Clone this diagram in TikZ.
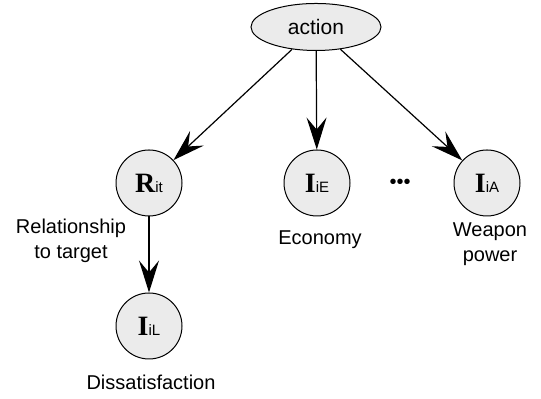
\documentclass[tikz,border=0pt]{standalone}
\usepackage{fontspec}
\setmainfont{Liberation Sans}
\newfontfamily\serifbf{Liberation Serif}
\usetikzlibrary{positioning,arrows.meta,shapes.geometric}
\definecolor{nodegray}{RGB}{235,235,235}
\newcommand{\varname}[2]{{\fontsize{14}{14}\selectfont\serifbf\bfseries #1}{\fontsize{7.5}{7.5}\selectfont #2}}

\begin{document}
\begin{tikzpicture}[x=0.5pt,y=0.5pt,
		var/.style={circle,draw,fill=nodegray,minimum size=33pt,inner sep=0pt,line width=0.5pt},
		act/.style={ellipse,draw,fill=nodegray,minimum width=65pt,minimum height=23.5pt,inner sep=0pt,line width=0.5pt,font=\fontsize{10.5}{12}\selectfont},
		lbl/.style={align=center,inner sep=0pt,font=\fontsize{10}{12.5}\selectfont},
		edge/.style={-{Stealth[length=16pt,width=10pt,inset=6pt]},line width=0.6pt}]
	\useasboundingbox (0,0) rectangle (541,399);
	%
	\node[act] (action) at (316,372) {action};
	\node[var] (rit) at (149,216) {\varname{R}{it}};
	\node[var] (iie) at (317,216) {\varname{I}{iE}};
	\node[var] (iia) at (487,216) {\varname{I}{iA}};
	\node[var, below=38pt of rit] (iil) {\varname{I}{iL}};
	\node[lbl] (dots) at (400,215) {•••};
	%
	\node[lbl] (rit label) at (71,158.5) {Relationship\\to target};
	\node[lbl] (iie label) at (320,159) {Economy};
	\node[lbl] (iia label) at (490,155) {Weapon\\power};
	\node[lbl] (iil label) at (151,17) {Dissatisfaction};
	%
	\draw[edge] (action) -- (rit);
	\draw[edge] (action) -- (iie);
	\draw[edge] (action) -- (iia);
	\draw[edge] (rit) -- (iil);
\end{tikzpicture}
\end{document}
